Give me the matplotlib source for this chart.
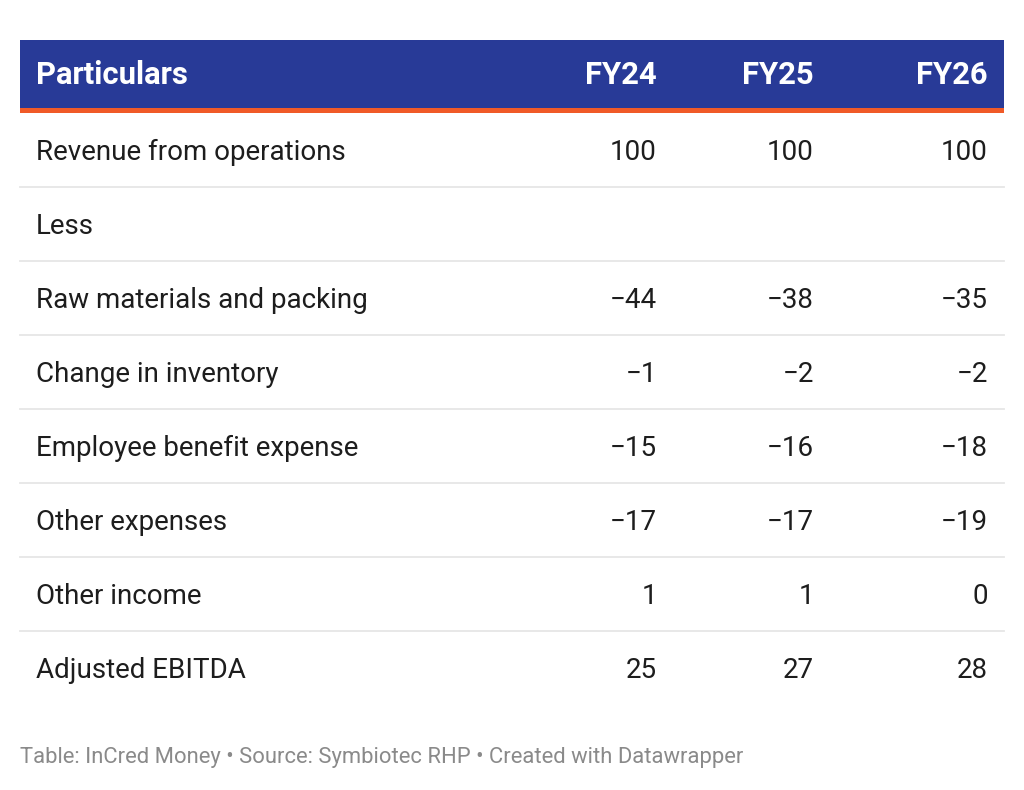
import matplotlib
matplotlib.use("Agg")
import matplotlib.pyplot as plt
from matplotlib.patches import Rectangle

plt.rcParams['font.family'] = ['Roboto', 'DejaVu Sans']

# table data
columns = ["FY24", "FY25", "FY26"]
particulars = ["Revenue from operations", "Less", "Raw materials and packing",
               "Change in inventory", "Employee benefit expense", "Other expenses",
               "Other income", "Adjusted EBITDA"]
fy24 = [100, None, -44, -1, -15, -17, 1, 25]
fy25 = [100, None, -38, -2, -16, -17, 1, 27]
fy26 = [100, None, -35, -2, -18, -19, 0, 28]
footer = "Table: InCred Money • Source: Symbiotec RHP • Created with Datawrapper"

blue = "#283a97"
orange = "#f05a28"
grid = "#e6e6e6"
txt = "#1d1d1d"


def fmt(v):
    if v is None:
        return ""
    return ("\u2212" + str(-v)) if v < 0 else str(v)


fig = plt.figure(figsize=(10.24, 7.9), dpi=100)
ax = fig.add_axes([0, 0, 1, 1])
ax.set_xlim(0, 1024)
ax.set_ylim(790, 0)
ax.axis("off")

# header
ax.add_patch(Rectangle((20, 40), 984, 68, color=blue, lw=0))
ax.add_patch(Rectangle((20, 108), 984, 5, color=orange, lw=0))
col_x = [657, 814, 988]
ax.text(36, 75, "Particulars", color="white", fontsize=22.3, fontweight="bold",
        va="center", ha="left")
for x, c in zip(col_x, columns):
    ax.text(x, 75, c, color="white", fontsize=22.3, fontweight="bold",
            va="center", ha="right")

# body rows
row_h = 74
y0 = 150
for i, name in enumerate(particulars):
    y = y0 + i * row_h
    ax.text(36, y + 2, name, color=txt, fontsize=20, va="center", ha="left")
    for x, vals in zip(col_x, (fy24, fy25, fy26)):
        ax.text(x, y + 2, fmt(vals[i]), color=txt, fontsize=20, va="center", ha="right")
    if i < len(particulars) - 1:
        ax.plot([20, 1004], [y + 37, y + 37], color=grid, lw=1.3)

ax.text(20, 757, footer, color="#8a8a8a", fontsize=15.8, va="center", ha="left")

fig.savefig("out.png", dpi=100)
